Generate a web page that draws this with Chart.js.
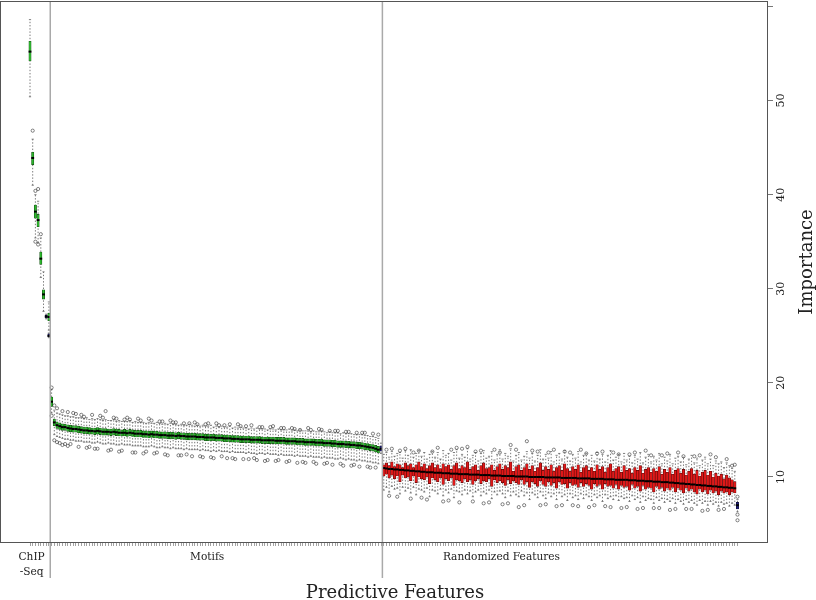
<!DOCTYPE html>
<html>
<head>
<meta charset="utf-8">
<script src="https://cdn.jsdelivr.net/npm/chart.js@4.4.1/dist/chart.umd.min.js"></script>
<style>
  body { margin: 0; background: #fff; }
  #wrap { width: 816px; height: 600px; }
</style>
</head>
<body>
<div id="wrap"><canvas id="featChart" width="816" height="600"></canvas></div>
<script>
// every box row is [lower whisker, Q1, median, Q3, upper whisker]
const groupNames = [['ChIP', '-Seq'], 'Motifs', 'Randomized Features'];

const chipStats = [
  [50.4, 54.2, 55.2, 56.3, 58.6], [41.0, 43.2, 43.9, 44.5, 45.9], [35.4, 37.5, 38.2, 38.9, 40.0],
  [34.9, 36.6, 37.3, 37.9, 39.3], [31.2, 32.6, 33.2, 33.9, 35.4], [27.6, 28.9, 29.4, 29.9, 31.8],
  [26.8, 26.9, 27.05, 27.2, 27.3], [25.6, 26.6, 27.0, 27.4, 28.6]
];
const chipDecision = ['Confirmed', 'Confirmed', 'Confirmed', 'Confirmed', 'Confirmed', 'Confirmed', 'Shadow', 'Confirmed'];
const chipOutliers = [[1, 46.8], [2, 40.4], [2, 35.0], [3, 34.7], [3, 40.6], [4, 35.8]];

const motifStats = [
  [16.8,17.5,18.0,18.5,19.3], [14.5,15.45,15.8,16.15,17.1], [14.3,15.15,15.5,15.85,16.8], [14.2,15.05,15.4,15.75,16.7],
  [14.1,14.95,15.3,15.65,16.6], [14.0,14.95,15.3,15.6,16.5], [14.0,14.85,15.2,15.55,16.5], [13.9,14.8,15.15,15.5,16.4],
  [13.9,14.75,15.1,15.45,16.4], [13.8,14.75,15.1,15.45,16.3], [13.8,14.7,15.05,15.4,16.3], [13.8,14.65,15.0,15.35,16.3],
  [13.7,14.6,14.95,15.3,16.2], [13.7,14.6,14.95,15.3,16.3], [13.7,14.55,14.9,15.25,16.1], [13.6,14.55,14.9,15.2,16.2],
  [13.6,14.5,14.85,15.2,16.1], [13.7,14.55,14.9,15.25,16.2], [13.6,14.5,14.85,15.2,16.1], [13.5,14.45,14.8,15.15,16.0],
  [13.5,14.45,14.8,15.15,16.1], [13.6,14.45,14.8,15.1,16.0], [13.5,14.4,14.75,15.1,16.0], [13.5,14.45,14.8,15.15,16.1],
  [13.4,14.4,14.75,15.1,15.9], [13.4,14.35,14.7,15.05,16.0], [13.5,14.35,14.7,15.0,15.9], [13.4,14.35,14.7,15.05,15.9],
  [13.4,14.3,14.65,15.0,15.9], [13.4,14.35,14.7,15.05,16.0], [13.3,14.3,14.65,15.0,15.8], [13.3,14.25,14.6,14.95,15.9],
  [13.3,14.25,14.6,14.95,15.8], [13.3,14.25,14.6,14.95,15.8], [13.2,14.2,14.55,14.9,15.8], [13.2,14.2,14.55,14.9,15.7],
  [13.2,14.15,14.5,14.85,15.8], [13.3,14.2,14.55,14.9,15.7], [13.2,14.15,14.5,14.85,15.7], [13.1,14.15,14.5,14.85,15.8],
  [13.1,14.1,14.45,14.8,15.7], [13.2,14.1,14.45,14.8,15.6], [13.1,14.1,14.45,14.8,15.7], [13.1,14.05,14.4,14.75,15.6],
  [13.0,14.05,14.4,14.75,15.7], [13.1,14.05,14.4,14.75,15.6], [13.0,14.0,14.35,14.7,15.6], [13.0,14.05,14.4,14.75,15.5],
  [13.0,14.0,14.35,14.7,15.6], [12.9,14.0,14.35,14.7,15.5], [13.0,13.95,14.3,14.65,15.5], [12.9,13.95,14.3,14.65,15.6],
  [12.9,13.95,14.3,14.65,15.5], [12.9,13.95,14.3,14.65,15.4], [12.9,13.9,14.25,14.6,15.5], [12.8,13.9,14.25,14.6,15.4],
  [12.9,13.9,14.25,14.6,15.5], [12.8,13.85,14.2,14.55,15.4], [12.8,13.85,14.2,14.55,15.4], [12.7,13.85,14.2,14.55,15.5],
  [12.8,13.85,14.2,14.55,15.3], [12.7,13.8,14.15,14.5,15.4], [12.8,13.8,14.15,14.5,15.3], [12.7,13.8,14.15,14.5,15.4],
  [12.7,13.75,14.1,14.45,15.3], [12.7,13.75,14.1,14.45,15.3], [12.6,13.75,14.1,14.45,15.4], [12.7,13.7,14.05,14.4,15.2],
  [12.6,13.7,14.05,14.4,15.3], [12.6,13.7,14.05,14.4,15.2], [12.6,13.65,14.0,14.35,15.3], [12.6,13.65,14.0,14.35,15.2],
  [12.5,13.65,14.0,14.35,15.2], [12.6,13.65,14.0,14.35,15.1], [12.5,13.6,13.95,14.3,15.2], [12.5,13.6,13.95,14.3,15.1],
  [12.4,13.6,13.95,14.3,15.2], [12.5,13.6,13.95,14.3,15.1], [12.5,13.55,13.9,14.25,15.1], [12.4,13.55,13.9,14.25,15.1],
  [12.5,13.55,13.9,14.25,15.0], [12.4,13.55,13.9,14.25,15.1], [12.4,13.55,13.9,14.25,15.1], [12.4,13.5,13.85,14.2,15.0],
  [12.3,13.5,13.85,14.2,15.1], [12.4,13.5,13.85,14.2,15.0], [12.3,13.5,13.85,14.2,15.0], [12.3,13.45,13.8,14.15,15.0],
  [12.3,13.45,13.8,14.15,15.1], [12.3,13.45,13.8,14.15,14.9], [12.2,13.45,13.8,14.15,15.0], [12.3,13.4,13.75,14.1,14.9],
  [12.2,13.4,13.75,14.1,15.0], [12.2,13.4,13.75,14.1,14.9], [12.2,13.35,13.7,14.05,14.9], [12.1,13.35,13.7,14.05,14.9],
  [12.2,13.35,13.7,14.05,14.8], [12.1,13.35,13.7,14.05,14.9], [12.1,13.3,13.65,14.0,14.8], [12.1,13.3,13.65,14.0,14.8],
  [12.0,13.3,13.65,14.0,14.9], [12.1,13.25,13.6,13.95,14.8], [12.0,13.25,13.6,13.95,14.7], [12.0,13.25,13.6,13.95,14.8],
  [12.0,13.2,13.55,13.9,14.7], [11.9,13.2,13.55,13.9,14.7], [11.9,13.15,13.5,13.85,14.7], [12.0,13.15,13.5,13.85,14.6],
  [11.9,13.15,13.5,13.85,14.7], [11.8,13.1,13.45,13.8,14.6], [11.9,13.1,13.45,13.8,14.6], [11.8,13.05,13.4,13.75,14.6],
  [11.8,13.05,13.4,13.75,14.5], [11.7,13.0,13.35,13.7,14.5], [11.8,13.0,13.35,13.7,14.5], [11.7,12.95,13.3,13.65,14.5],
  [11.7,12.9,13.25,13.6,14.4], [11.6,12.85,13.2,13.55,14.4], [11.6,12.8,13.15,13.5,14.3], [11.5,12.75,13.1,13.45,14.3],
  [11.5,12.65,13.0,13.35,14.2], [11.4,12.55,12.9,13.25,14.1]
];
const motifOutliers = [
  [0,19.5],[0,16.5],[1,17.6],[1,13.9],[2,17.3],[3,13.6],[4,17.0],[5,13.5],[6,16.9],[7,13.5],[9,16.7],[10,13.2],
  [12,16.4],[14,13.2],[15,16.6],[17,13.0],[19,16.3],[20,17.0],[22,12.9],[24,16.2],[25,12.7],[27,16.1],[28,16.3],
  [30,12.6],[33,16.0],[35,12.7],[36,16.2],[38,12.5],[40,15.9],[42,12.4],[44,16.0],[45,15.8],[47,12.3],[49,15.7],
  [50,12.4],[53,15.8],[55,12.2],[57,15.6],[59,12.1],[61,15.7],[63,12.2],[64,15.5],[67,12.0],[69,15.6],[71,11.9],
  [72,15.4],[75,12.0],[77,15.3],[80,11.8],[82,15.4],[84,11.8],[86,15.2],[88,11.7],[90,15.1],[93,11.6],[95,15.2],
  [97,11.6],[100,15.0],[102,11.5],[105,14.9],[107,11.4],[110,14.8],[112,11.3],[115,14.7],[117,11.1],[119,14.6],
  [120,11.0],[121,14.5],
  [2,13.7],[4,13.4],[6,13.3],[8,16.8],[11,16.6],[13,13.1],[16,13.0],[18,16.5],[21,12.8],[23,16.3],[26,12.8],
  [29,16.1],[31,12.6],[32,16.2],[34,12.5],[37,16.0],[39,12.6],[41,15.9],[43,12.3],[46,15.8],[48,12.3],[51,15.7],
  [52,12.2],[54,15.6],[56,12.1],[58,15.7],[60,12.0],[62,15.5],[65,12.0],[66,15.6],[68,11.9],[70,15.4],[73,11.9],
  [74,15.5],[76,11.8],[78,15.3],[79,11.7],[81,15.3],[83,11.7],[85,15.2],[87,11.6],[89,15.2],[91,11.5],[92,15.0],
  [94,11.5],[96,15.0],[98,11.4],[99,15.1],[101,11.4],[103,14.9],[104,11.3],[106,14.9],[108,11.2],[109,14.8],
  [111,11.2],[113,14.7],[114,11.1],[116,14.7],[118,11.0]
];

const randomStats = [
  [8.6,10.1,10.95,11.3,12.4], [8.9,10.3,10.9,11.5,12.6], [8.4,9.9,10.85,11.2,12.1], [9.0,10.2,10.85,11.6,12.7],
  [8.7,9.8,10.8,11.1,12.2], [8.8,10.1,10.8,11.4,12.5], [8.2,9.5,10.75,11.3,12.6], [8.9,10.2,10.75,11.0,12.0],
  [8.5,9.9,10.7,11.5,12.8], [8.8,10.0,10.7,11.2,12.3], [8.3,9.6,10.65,11.4,12.9], [8.9,10.1,10.65,11.0,12.1],
  [8.1,9.4,10.6,11.3,12.5], [8.7,10.0,10.6,11.6,12.8], [8.6,9.8,10.55,11.1,12.2], [8.4,9.7,10.55,11.4,12.6],
  [8.8,10.0,10.5,10.9,11.9], [7.9,9.3,10.5,11.2,12.4], [8.6,9.9,10.5,11.5,12.7], [8.5,9.7,10.45,11.0,12.1],
  [8.2,9.5,10.45,11.3,12.6], [8.7,9.9,10.45,10.9,11.9], [8.0,9.2,10.4,11.4,12.8], [8.6,9.8,10.4,11.1,12.3],
  [8.3,9.6,10.4,11.3,12.5], [8.7,9.9,10.35,10.8,11.8], [7.8,9.1,10.35,11.2,12.6], [8.5,9.7,10.35,11.5,12.9],
  [8.4,9.6,10.3,10.9,12.0], [8.1,9.4,10.3,11.2,12.4], [8.6,9.8,10.3,11.0,12.1], [8.2,9.5,10.3,11.6,13.0],
  [8.5,9.7,10.25,10.8,11.9], [7.9,9.2,10.25,11.1,12.3], [8.4,9.6,10.25,11.3,12.6], [8.6,9.8,10.25,10.7,11.7],
  [8.0,9.3,10.2,11.2,12.5], [8.4,9.6,10.2,11.5,12.8], [8.2,9.5,10.2,10.9,12.0], [8.6,9.8,10.2,11.0,12.2],
  [7.7,9.0,10.15,11.3,12.7], [8.4,9.7,10.15,10.7,11.8], [8.1,9.4,10.15,11.1,12.4], [8.5,9.6,10.15,11.4,12.9],
  [8.2,9.4,10.1,10.8,11.9], [7.8,9.1,10.1,11.2,12.5], [8.5,9.7,10.1,11.0,12.2], [8.0,9.3,10.1,11.6,13.0],
  [8.4,9.6,10.1,10.6,11.7], [8.1,9.4,10.05,11.1,12.3], [7.9,9.2,10.05,11.3,12.6], [8.5,9.7,10.05,10.7,11.8],
  [8.0,9.2,10.05,11.0,12.2], [8.3,9.5,10.05,11.4,12.7], [7.6,8.9,10.0,10.8,12.0], [8.3,9.5,10.0,11.2,12.5],
  [8.1,9.3,10.0,10.6,11.7], [7.8,9.0,10.0,11.0,12.3], [8.4,9.6,10.0,11.5,12.9], [8.0,9.2,10.0,10.7,11.9],
  [7.7,9.0,9.95,11.1,12.4], [8.3,9.5,9.95,10.8,12.0], [7.9,9.1,9.95,11.3,12.7], [8.2,9.4,9.95,10.6,11.6],
  [7.6,8.8,9.95,11.0,12.3], [8.3,9.5,9.95,11.2,12.5], [7.9,9.2,9.9,10.7,11.9], [8.1,9.3,9.9,11.4,12.8],
  [7.5,8.8,9.9,10.9,12.1], [8.2,9.4,9.9,10.6,11.7], [7.8,9.1,9.9,11.1,12.4], [8.0,9.2,9.9,10.8,12.0],
  [7.6,8.9,9.85,11.3,12.7], [8.2,9.4,9.85,10.5,11.6], [7.7,9.0,9.85,11.0,12.3], [8.1,9.3,9.85,11.2,12.5],
  [7.9,9.1,9.85,10.7,11.8], [7.5,8.7,9.8,11.0,12.3], [8.1,9.3,9.8,10.6,11.7], [7.8,9.0,9.8,11.3,12.6],
  [8.0,9.2,9.8,10.8,11.9], [7.4,8.7,9.8,11.1,12.4], [8.1,9.3,9.75,10.5,11.6], [7.7,9.0,9.75,11.0,12.3],
  [7.9,9.1,9.75,11.4,12.8], [7.6,8.8,9.75,10.6,11.8], [8.0,9.2,9.7,10.9,12.1], [7.5,8.7,9.7,11.1,12.4],
  [7.9,9.1,9.7,10.5,11.6], [7.7,8.9,9.7,11.2,12.5], [7.8,9.0,9.7,10.7,11.8], [7.4,8.6,9.65,10.9,12.2],
  [8.0,9.2,9.65,10.4,11.5], [7.6,8.8,9.65,11.0,12.3], [7.8,9.0,9.6,10.7,11.9], [7.3,8.5,9.6,11.2,12.6],
  [7.9,9.1,9.6,10.4,11.5], [7.5,8.7,9.55,10.8,12.1], [7.7,8.9,9.55,11.0,12.4], [7.6,8.8,9.55,10.5,11.6],
  [7.2,8.4,9.5,10.9,12.2], [7.8,9.0,9.5,10.6,11.8], [7.5,8.7,9.5,11.1,12.5], [7.7,8.9,9.45,10.3,11.4],
  [7.3,8.5,9.45,10.8,12.1], [7.6,8.8,9.45,10.5,11.7], [7.4,8.6,9.4,11.0,12.4], [7.7,8.9,9.4,10.3,11.4],
  [7.2,8.4,9.35,10.7,12.0], [7.6,8.8,9.35,10.9,12.2], [7.4,8.6,9.3,10.4,11.6], [7.1,8.3,9.3,10.8,12.1],
  [7.6,8.8,9.25,10.2,11.3], [7.3,8.5,9.25,10.6,11.9], [7.5,8.7,9.2,10.9,12.3], [7.2,8.4,9.2,10.3,11.5],
  [7.0,8.2,9.15,10.7,12.0], [7.5,8.7,9.15,10.1,11.2], [7.2,8.4,9.1,10.5,11.8], [7.4,8.6,9.1,10.7,12.1],
  [7.0,8.2,9.05,10.2,11.4], [7.4,8.6,9.05,10.6,11.9], [7.1,8.3,9.0,10.0,11.2], [7.3,8.5,9.0,10.4,11.7],
  [6.9,8.1,8.95,10.1,11.4], [7.3,8.5,8.95,10.3,11.6], [7.1,8.3,8.9,9.8,11.0], [7.2,8.4,8.9,10.2,11.5],
  [6.9,8.1,8.85,9.9,11.2], [7.2,8.4,8.85,9.7,10.9], [7.0,8.3,8.8,9.5,10.6]
];
const randomOutliers = [
  [1,12.9],[3,13.0],[5,7.9],[8,13.0],[10,7.7],[13,12.8],[16,7.6],[20,13.1],[22,7.4],[25,12.9],[28,7.3],[29,13.0],
  [31,13.2],[34,12.7],[37,7.2],[41,12.9],[44,7.1],[47,13.4],[50,6.8],[53,13.8],[55,12.8],[58,7.0],[61,12.6],
  [64,6.9],[67,12.7],[70,7.0],[73,12.9],[76,6.8],[79,12.5],[82,6.9],[85,12.6],[88,6.7],[91,12.4],[94,6.6],
  [97,12.8],[100,6.7],[103,12.3],[106,6.5],[109,12.6],[112,6.6],[115,12.2],[118,6.4],[121,12.4],[124,6.5],
  [127,11.9],[129,11.2],[130,11.3],
  [2,8.0],[6,12.8],[11,12.6],[14,7.8],[18,12.7],[24,7.5],[27,13.1],[33,7.4],[36,12.8],[39,7.3],[43,12.6],
  [46,7.2],[49,12.9],[52,7.0],[57,12.7],[60,7.1],[63,12.9],[66,7.0],[69,12.6],[72,6.9],[75,12.5],[78,7.0],
  [81,12.7],[84,6.8],[87,12.4],[90,6.8],[93,12.6],[96,6.7],[99,12.3],[102,6.7],[105,12.5],[108,6.6],[111,12.2],
  [114,6.6],[117,12.3],[120,6.5],[123,12.1],[126,6.6]
];

// shadow attributes sit at fixed feature slots
const shadowPos = [7, 130, 262];
const shadowStats = [[24.8, 24.9, 25.0, 25.2, 25.3], [12.5, 12.75, 13.0, 13.3, 13.6], [6.3, 6.6, 7.0, 7.3, 7.6]];
const shadowOutliers = [[2, 7.9], [2, 6.0], [2, 5.4]];

const yTicks = [10, 20, 30, 40, 50, 60];
const yTickLabels = ['10', '20', '30', '40', '50', ''];

// ---- build feature list ----
const motifStart = chipStats.length;
const randomStart = shadowPos[1] + 1;
const feats = [];
chipStats.forEach((s, i) => feats.push({ x: i, s: s, kind: chipDecision[i] }));
motifStats.forEach((s, i) => feats.push({ x: motifStart + i, s: s, kind: 'Confirmed' }));
randomStats.forEach((s, i) => feats.push({ x: randomStart + i, s: s, kind: 'Rejected' }));
shadowStats.forEach((s, i) => feats.push({ x: shadowPos[i], s: s, kind: 'Shadow' }));

const outliers = [];
chipOutliers.forEach(o => outliers.push({ x: o[0], y: o[1] }));
motifOutliers.forEach(o => outliers.push({ x: motifStart + o[0], y: o[1] }));
randomOutliers.forEach(o => outliers.push({ x: randomStart + o[0], y: o[1] }));
shadowOutliers.forEach(o => outliers.push({ x: shadowPos[o[0]], y: o[1] }));

const whiskerPts = [];
const staplePts = [];
feats.forEach(f => {
  whiskerPts.push({ x: f.x, y: f.s[0] }, { x: f.x, y: f.s[4] }, { x: f.x, y: null });
  staplePts.push({ x: f.x, y: f.s[0] }, { x: f.x, y: f.s[4] });
});
const tickPositions = [...new Set(feats.map(f => f.x))].sort((a, b) => a - b);

function boxSet(kind, fill, edge, width) {
  return {
    type: 'bar',
    data: feats.filter(f => f.kind === kind).map(f => ({ x: f.x, y: [f.s[1], f.s[3]] })),
    backgroundColor: fill,
    borderColor: edge,
    borderWidth: 0.6,
    borderSkipped: false,
    barThickness: width,
    grouped: false,
    order: 3
  };
}

const serif = 'DejaVu Serif';

const framePlugin = {
  id: 'frame',
  afterDraw(chart) {
    const { ctx, chartArea: a } = chart;
    const x = chart.scales.x;
    ctx.save();
    // group dividers run down into the label strip
    ctx.strokeStyle = '#a9a9a9';
    ctx.lineWidth = 1.5;
    [chipStats.length - 0.5, shadowPos[1] + 0.5].forEach(v => {
      const px = x.getPixelForValue(v);
      ctx.beginPath();
      ctx.moveTo(px, a.top);
      ctx.lineTo(px, a.bottom + 36);
      ctx.stroke();
    });
    ctx.strokeStyle = '#555';
    ctx.lineWidth = 1;
    ctx.strokeRect(a.left + 0.5, a.top + 0.5, a.right - a.left - 1, a.bottom - a.top);

    ctx.fillStyle = '#222';
    ctx.textAlign = 'center';
    ctx.textBaseline = 'middle';
    ctx.font = '10.6px "' + serif + '"';
    const chipX = x.getPixelForValue(0.6);
    ctx.fillText(groupNames[0][0], chipX, a.bottom + 15);
    ctx.fillText(groupNames[0][1], chipX, a.bottom + 30);
    ctx.fillText(groupNames[1], x.getPixelForValue(65.6), a.bottom + 15);
    ctx.fillText(groupNames[2], x.getPixelForValue(174.6), a.bottom + 15);

    ctx.font = '18px "' + serif + '"';
    ctx.fillText('Predictive Features', (a.left + a.right) / 2 + 11, a.bottom + 51);

    ctx.translate(807, 262);
    ctx.rotate(-Math.PI / 2);
    ctx.fillText('Importance', 0, 0);
    ctx.restore();
  }
};

new Chart(document.getElementById('featChart'), {
  type: 'bar',
  data: {
    datasets: [
      {
        type: 'scatter', data: feats.map(f => ({ x: f.x, y: f.s[2] })),
        pointStyle: 'line', pointRadius: 1.4, borderColor: '#000', borderWidth: 2, order: 1
      },
      {
        type: 'scatter', data: outliers,
        pointStyle: 'circle', pointRadius: 1.6, borderColor: '#333', backgroundColor: 'rgba(0,0,0,0)',
        borderWidth: 0.6, order: 2
      },
      boxSet('Confirmed', '#2db82d', '#134d13', 2.3),
      boxSet('Rejected', '#e01818', '#5a0808', 2.6),
      boxSet('Shadow', '#1e1e80', '#0a0a30', 2.3),
      {
        type: 'scatter', data: staplePts,
        pointStyle: 'line', pointRadius: 1.1, borderColor: '#555', borderWidth: 0.7, order: 4
      },
      {
        type: 'line', data: whiskerPts, spanGaps: false,
        borderColor: '#555', borderWidth: 0.8, borderDash: [1.4, 1.8], pointRadius: 0, order: 5
      }
    ]
  },
  options: {
    responsive: false,
    animation: false,
    events: [],
    layout: { autoPadding: false, padding: { top: 1, left: 0, right: 0, bottom: 0 } },
    plugins: { legend: { display: false }, tooltip: { enabled: false } },
    scales: {
      x: {
        type: 'linear', min: -11.11, max: 273.3, offset: false,
        afterBuildTicks: s => { s.ticks = tickPositions.map(v => ({ value: v })); },
        afterFit: s => { s.height = 58; s.paddingLeft = 0; s.paddingRight = 0; },
        border: { display: false },
        grid: { offset: false, drawOnChartArea: false, drawTicks: true, tickLength: 4, color: '#8a8a8a', lineWidth: 0.8 },
        ticks: { display: false, autoSkip: false }
      },
      y: {
        position: 'right', min: 3.09, max: 60.58,
        afterBuildTicks: s => { s.ticks = yTicks.map(v => ({ value: v })); },
        afterFit: s => { s.width = 48; s.paddingTop = 0; s.paddingBottom = 0; },
        border: { display: false },
        grid: { drawOnChartArea: false, drawTicks: true, tickLength: 5, color: '#777', lineWidth: 1 },
        ticks: {
          minRotation: 90, maxRotation: 90, crossAlign: 'center', padding: 1, color: '#222',
          font: { family: serif, size: 11 },
          callback: (v, i) => yTickLabels[i]
        }
      }
    }
  },
  plugins: [framePlugin]
});
</script>
</body>
</html>
